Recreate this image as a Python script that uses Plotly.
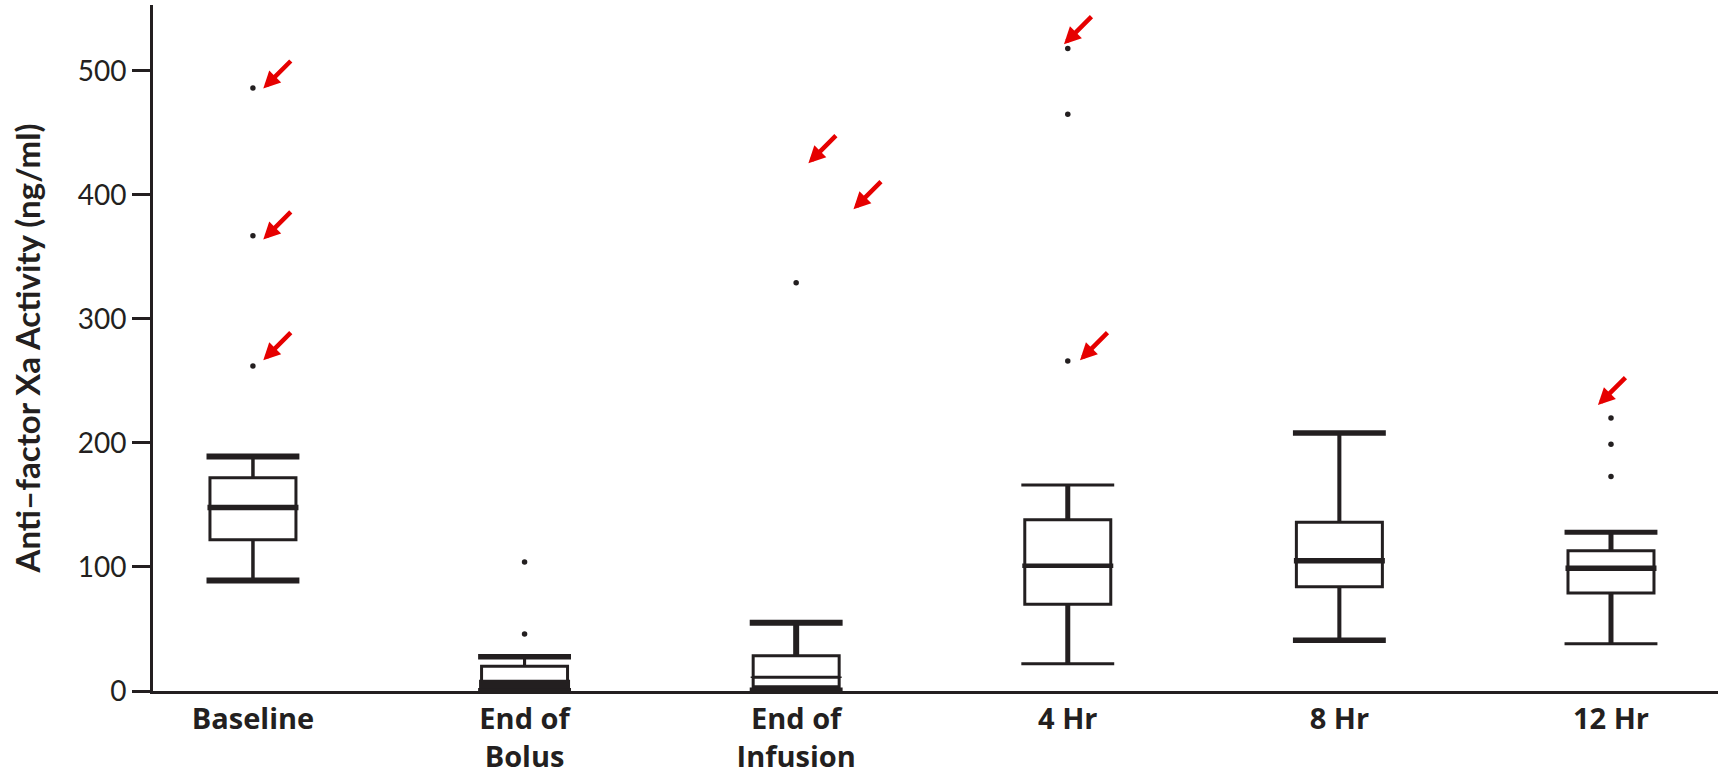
import plotly.graph_objects as go

# ---------------- data ----------------
categories = ["Baseline", "End of<br>Bolus", "End of<br>Infusion", "4 Hr", "8 Hr", "12 Hr"]
positions = [0, 1, 2, 3, 4, 5]
lower_fence = [89, 0, 0, 22, 41, 38]
q1 = [122, 2.5, 3.5, 70, 84, 79]
median = [148, 5.5, 11, 101, 105, 99]
q3 = [172, 20, 28.5, 138, 136, 113]
upper_fence = [189, 27.6, 55, 166, 208, 128]
outliers = [[486, 367, 262], [104, 46], [329], [518, 465, 266], [], [220, 199, 173]]

y_ticks = [0, 100, 200, 300, 400, 500]

# red arrows: target group, horizontal shift (category units), value
arrow_group = [0, 0, 0, 2, 2, 3, 3, 5]
arrow_shift = [0.038, 0.038, 0.038, 0.045, 0.211, -0.014, 0.045, -0.048]
arrow_value = [485.7, 364, 266.7, 425.5, 388.4, 521.4, 266.7, 230.5]

# ---------------- style ----------------
INK = "#231f20"
RED = "#e60000"
FONT = "Lato"
XFONT = "Open Sans"
box_width = 0.3166
cap_half = 0.171
med_half = 0.1675
median_lw = [5.5, 9, 1.5, 4.5, 5.5, 5.5]
upper_cap_lw = [6, 5.5, 6, 3, 5.5, 5]
lower_cap_lw = [6, 6, 7, 3, 5.5, 3]
whisker_lw = [3, 3, 6, 5, 4, 5]

fig = go.Figure()

for i, p in enumerate(positions):
    fig.add_trace(go.Box(
        x=[p], q1=[q1[i]], median=[median[i]], q3=[q3[i]],
        lowerfence=[lower_fence[i]], upperfence=[upper_fence[i]],
        width=box_width, whiskerwidth=0,
        fillcolor="white", line=dict(color=INK, width=3),
        boxpoints=False, showlegend=False, hoverinfo="skip",
    ))
    # whiskers
    fig.add_trace(go.Scatter(
        x=[p, p, None, p, p],
        y=[q3[i], upper_fence[i], None, lower_fence[i], q1[i]],
        mode="lines", line=dict(color=INK, width=whisker_lw[i]),
        showlegend=False, hoverinfo="skip",
    ))
    # caps
    fig.add_trace(go.Scatter(
        x=[p - cap_half, p + cap_half], y=[upper_fence[i], upper_fence[i]],
        mode="lines", line=dict(color=INK, width=upper_cap_lw[i]),
        showlegend=False, hoverinfo="skip",
    ))
    fig.add_trace(go.Scatter(
        x=[p - cap_half, p + cap_half], y=[lower_fence[i], lower_fence[i]],
        mode="lines", line=dict(color=INK, width=lower_cap_lw[i]),
        showlegend=False, hoverinfo="skip",
    ))
    # median
    fig.add_trace(go.Scatter(
        x=[p - med_half, p + med_half], y=[median[i], median[i]],
        mode="lines", line=dict(color=INK, width=median_lw[i]),
        showlegend=False, hoverinfo="skip",
    ))
    # outliers
    if outliers[i]:
        fig.add_trace(go.Scatter(
            x=[p] * len(outliers[i]), y=outliers[i], mode="markers",
            marker=dict(color=INK, size=5.5, symbol="circle"),
            showlegend=False, hoverinfo="skip", cliponaxis=False,
        ))

for g, s, v in zip(arrow_group, arrow_shift, arrow_value):
    fig.add_annotation(
        x=positions[g] + s, y=v, xref="x", yref="y",
        ax=29, ay=-29, axref="pixel", ayref="pixel",
        text="", showarrow=True, arrowhead=2, arrowsize=0.75,
        arrowwidth=4.5, arrowcolor=RED, standoff=0,
    )

fig.update_layout(
    width=1725, height=778,
    margin=dict(l=153, r=7, t=5, b=87),
    paper_bgcolor="white", plot_bgcolor="white",
    font=dict(family=FONT, color=INK),
    showlegend=False,
)
fig.update_xaxes(
    range=[-0.368, 5.394], tickvals=positions, ticktext=categories,
    showline=True, linewidth=3, linecolor=INK, ticks="", showgrid=False,
    zeroline=False, automargin=False,
    tickfont=dict(family=XFONT, size=29, color=INK, weight="bold"),
)
fig.update_yaxes(
    range=[0, 553], tickvals=y_ticks,
    showline=True, linewidth=3, linecolor=INK, ticks="outside", ticklen=18,
    tickwidth=3, tickcolor=INK, showgrid=False, zeroline=False, automargin=False,
    tickfont=dict(family=FONT, size=28, color=INK),
    title=dict(text="Anti\u2013factor Xa Activity (ng/ml)",
               font=dict(family=FONT, size=33, color=INK, weight="bold"), standoff=28),
)

fig.write_html("out.html")
